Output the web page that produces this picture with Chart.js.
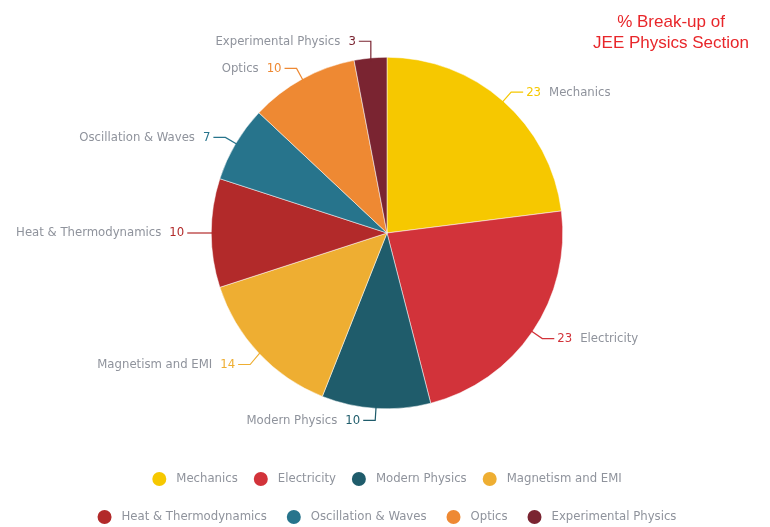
<!DOCTYPE html>
<html>
<head>
<meta charset="utf-8">
<script src="https://cdn.jsdelivr.net/npm/chart.js@4"></script>
<style>
  body { margin: 0; background: #fff; }
  canvas { display: block; }
</style>
</head>
<body>
<canvas id="jeeChart" width="770" height="527"></canvas>
<script>
const topics = ['Mechanics', 'Electricity', 'Modern Physics', 'Magnetism and EMI',
  'Heat & Thermodynamics', 'Oscillation & Waves', 'Optics', 'Experimental Physics'];
const shares = [23, 23, 10, 14, 10, 7, 10, 3];
const colors = ['#F6C800', '#D2333A', '#1F5C6B', '#EEAE32', '#B22A2A', '#27748C', '#EE8933', '#7A2431'];
const legendRows = [[0, 1, 2, 3], [4, 5, 6, 7]];
const titleLines = ['% Break-up of', 'JEE Physics Section'];

const labelFont = '13px "Liberation Sans Narrow", "DejaVu Sans Condensed", sans-serif';
const textGray = '#8f939c';

// leader lines + outside labels
const sliceLabels = {
  id: 'sliceLabels',
  afterDatasetsDraw(chart) {
    const ctx = chart.ctx;
    const arcs = chart.getDatasetMeta(0).data;
    ctx.save();
    ctx.font = labelFont;
    ctx.textBaseline = 'middle';
    arcs.forEach((arc, i) => {
      const mid = (arc.startAngle + arc.endAngle) / 2;
      const r = arc.outerRadius;
      const x0 = arc.x + Math.cos(mid) * (r - 4);
      const y0 = arc.y + Math.sin(mid) * (r - 4);
      let x1 = arc.x + Math.cos(mid) * (r + 12);
      let y1 = arc.y + Math.sin(mid) * (r + 12);
      const right = Math.cos(mid) >= 0 && i < 3;
      if (i === 7) { x1 = x0; y1 = arc.y - r - 16; }
      if (i === 3) { y1 += 3; }
      const x2 = right ? x1 + 12 : x1 - 12;
      ctx.strokeStyle = colors[i];
      ctx.lineWidth = 1.2;
      ctx.beginPath();
      ctx.moveTo(x0, y0);
      ctx.lineTo(x1, y1);
      ctx.lineTo(x2, y1);
      ctx.stroke();
      const num = String(shares[i]);
      if (right) {
        ctx.textAlign = 'left';
        ctx.fillStyle = colors[i];
        ctx.fillText(num, x2 + 3, y1);
        const w = ctx.measureText(num).width;
        ctx.fillStyle = textGray;
        ctx.fillText(topics[i], x2 + 3 + w + 8, y1);
      } else {
        ctx.textAlign = 'right';
        ctx.fillStyle = colors[i];
        ctx.fillText(num, x2 - 3, y1);
        const w = ctx.measureText(num).width;
        ctx.fillStyle = textGray;
        ctx.fillText(topics[i], x2 - 3 - w - 8, y1);
      }
    });
    ctx.restore();
  }
};

// two-row legend + title in the corner
const extras = {
  id: 'extras',
  afterDraw(chart) {
    const ctx = chart.ctx;
    ctx.save();
    ctx.font = labelFont;
    ctx.textBaseline = 'middle';
    ctx.textAlign = 'left';
    const rowY = [479, 517];
    legendRows.forEach((row, k) => {
      const items = row.map(i => ({ i, w: 14 + 10 + ctx.measureText(topics[i]).width }));
      const gap = k === 0 ? 16 : 20;
      const total = items.reduce((s, it) => s + it.w, 0) + gap * (items.length - 1);
      let x = 387 - total / 2;
      items.forEach(it => {
        ctx.fillStyle = colors[it.i];
        ctx.beginPath();
        ctx.arc(x + 7, rowY[k], 7, 0, Math.PI * 2);
        ctx.fill();
        ctx.fillStyle = textGray;
        ctx.fillText(topics[it.i], x + 24, rowY[k]);
        x += it.w + gap;
      });
    });
    ctx.font = '17px "Liberation Sans", Arial, sans-serif';
    ctx.fillStyle = '#E8262A';
    ctx.textAlign = 'center';
    titleLines.forEach((t, k) => ctx.fillText(t, 671, 22 + k * 21));
    ctx.restore();
  }
};

new Chart(document.getElementById('jeeChart'), {
  type: 'pie',
  data: {
    labels: topics,
    datasets: [{
      data: shares,
      backgroundColor: colors,
      borderColor: '#ffffff',
      borderWidth: 0.5
    }]
  },
  options: {
    responsive: false,
    animation: false,
    layout: { padding: { top: 57, bottom: 118, left: 211, right: 207 } },
    plugins: {
      legend: { display: false },
      tooltip: { enabled: false }
    }
  },
  plugins: [sliceLabels, extras]
});
</script>
</body>
</html>
